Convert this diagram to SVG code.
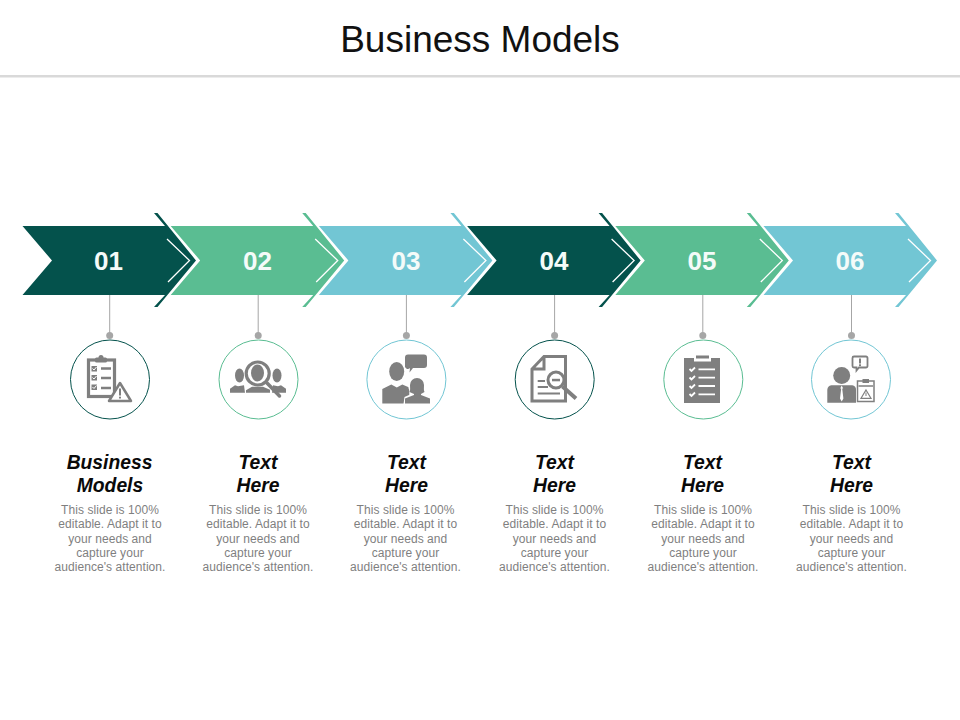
<svg xmlns="http://www.w3.org/2000/svg" width="960" height="720" viewBox="0 0 960 720">
<style>
text{font-family:"Liberation Sans",Arial,sans-serif;text-anchor:middle}
.title{font-size:37px;fill:#111}
.num{font-size:26px;font-weight:bold;fill:#f4fbf9}
.head{font-size:19.3px;font-weight:bold;font-style:italic;fill:#0a0a0a}
.body{font-size:12px;fill:#7f7f7f;letter-spacing:.06px}
.inner{fill:none;stroke:#fff;stroke-width:1.3}
.link{stroke:#a6a6a6;stroke-width:1}
.dot{fill:#a6a6a6}
.ring{fill:#fff;stroke-width:1}
.g{fill:#7f7f7f}
.o{fill:none;stroke:#7f7f7f}
.w{fill:none;stroke:#fff}
</style>
<defs>
<polygon id="arrow" points="22.5,226 165,226 154,213 157.5,213 196,260.5 157.5,307 154,307 165,295 22.5,295 52,260.5"/>
<polyline id="inner" class="inner" points="167,239 189.5,260.5 168,282"/>
<g id="para">
<text class="body" y="0">This slide is 100%</text>
<text class="body" y="14.3">editable. Adapt it to</text>
<text class="body" y="28.500">your needs and</text>
<text class="body" y="42.800">capture your</text>
<text class="body" y="57">audience's attention.</text>
</g>
</defs>
<rect width="960" height="720" fill="#fff"/>
<g id="title">
<text class="title" x="480" y="52">Business Models</text>
<rect x="0" y="75" width="960" height="2.5" fill="#d9d9d9"/>
</g>
<g id="connectors">
<line class="link" x1="109.7" y1="295" x2="109.7" y2="336"/><circle class="dot" cx="109.7" cy="335.5" r="3.5"/>
<line class="link" x1="258.2" y1="295" x2="258.2" y2="336"/><circle class="dot" cx="258.2" cy="335.5" r="3.5"/>
<line class="link" x1="406.4" y1="295" x2="406.4" y2="336"/><circle class="dot" cx="406.4" cy="335.5" r="3.5"/>
<line class="link" x1="554.6" y1="295" x2="554.6" y2="336"/><circle class="dot" cx="554.6" cy="335.5" r="3.5"/>
<line class="link" x1="702.8" y1="295" x2="702.8" y2="336"/><circle class="dot" cx="702.8" cy="335.5" r="3.5"/>
<line class="link" x1="851.5" y1="295" x2="851.5" y2="336"/><circle class="dot" cx="851.5" cy="335.5" r="3.5"/>
</g>
<g id="node-01">
<use href="#arrow" fill="#04524c"/><use href="#inner"/>
<text class="num" x="108.500" y="270">01</text>
<circle class="ring" cx="110" cy="379.500" r="39.5" stroke="#04524c"/>
<g id="icon-01">
<rect class="o" stroke-width="3.200" x="88.500" y="360" width="26" height="36.500"/>
<rect class="g" x="95" y="357.500" width="12" height="5" rx="1.500"/><circle class="g" cx="101" cy="357.500" r="2.500"/>
<rect class="g" x="91.500" y="366" width="5.500" height="5.500"/><rect class="g" x="91.500" y="375" width="5.500" height="5.500"/><rect class="g" x="91.500" y="384.500" width="5.500" height="5.500"/>
<path class="w" stroke-width="1" d="M92.500 368.500l1.500 1.500 2.500-3M92.500 377.500l1.500 1.500 2.500-3M92.500 387l1.500 1.500 2.500-3"/>
<path class="o" stroke-width="2.500" d="M101 368.500h10M101 378h10M101 388h10"/>
<polygon points="120,383 131,401 109,401" fill="#fff" stroke="#7f7f7f" stroke-width="2.500" stroke-linejoin="round"/>
<rect class="g" x="119" y="388.500" width="2" height="7"/><rect class="g" x="119" y="396.700" width="2" height="1.800"/>
</g>
</g>
<g id="node-02">
<g transform="translate(148.2 0)"><use href="#arrow" fill="#5abd92"/><use href="#inner"/></g>
<text class="num" x="257.500" y="270">02</text>
<circle class="ring" cx="258.500" cy="379.500" r="39.5" stroke="#5abd92"/>
<g id="icon-02">
<ellipse class="g" cx="239.500" cy="375.500" rx="4.500" ry="7"/><ellipse class="g" cx="277" cy="375.500" rx="4.500" ry="7"/>
<path class="g" d="M230 392.700v-4l5-3.500 3 1 6-1 1 7.500zM286 392.700v-4l-5-3.500-3 1-5-1-1 7.500z"/>
<path class="g" d="M246 392.700v-2.500l6-3.500h11l7 3v3z"/>
<circle cx="257.700" cy="373.500" r="11.500" fill="#fff" stroke="#7f7f7f" stroke-width="3.200"/>
<ellipse class="g" cx="257.500" cy="373" rx="6.500" ry="8.500"/>
<line class="o" stroke-width="3.500" stroke-linecap="round" x1="267" y1="383" x2="279.5" y2="396"/>
</g>
</g>
<g id="node-03">
<g transform="translate(296.4 0)"><use href="#arrow" fill="#72c6d4"/><use href="#inner"/></g>
<text class="num" x="406" y="270">03</text>
<circle class="ring" cx="406.400" cy="379.500" r="39.5" stroke="#72c6d4"/>
<g id="icon-03">
<ellipse class="g" cx="396.700" cy="371.500" rx="7.500" ry="9.500"/>
<path class="g" d="M382.300 403.500v-14.500l9-4.500 5.500 3 5.500-3 7 3v16z"/>
<path class="g" d="M405 357.500a3 3 0 0 1 3-3h16a3 3 0 0 1 3 3v7.500a3 3 0 0 1-3 3h-11l-3.500 4.500 .500-4.500a3 3 0 0 1-5-3z"/>
<ellipse cx="417" cy="384.500" rx="9" ry="10.500" fill="#fff"/>
<path d="M403.500 404l1-7 8-3.500h10l8 3v7.500z" fill="#fff"/>
<path class="g" d="M409.500 392c1-2 .500-4 .500-7a7 7 0 0 1 14 0c0 3 -.500 5 .500 7l-3.500 2v1l9 3.500v5h-25v-5l9-3.500v-1z"/>
</g>
</g>
<g id="node-04">
<g transform="translate(444.6 0)"><use href="#arrow" fill="#04524c"/><use href="#inner"/></g>
<text class="num" x="554" y="270">04</text>
<circle class="ring" cx="554.700" cy="379.500" r="39.5" stroke="#04524c"/>
<g id="icon-04">
<path class="o" stroke-width="3" d="M544 356.500h21.500v44.500h-33.500v-32zV369h-12"/>
<path class="o" stroke-width="2" d="M537.700 381h7.300M537.700 387h10.300M537.700 393.500h22.300"/>
<circle cx="556" cy="380" r="8" fill="#fff" stroke="#7f7f7f" stroke-width="3"/>
<rect class="g" x="552" y="378.800" width="8" height="2.500"/>
<line class="o" stroke-width="4" x1="562.500" y1="386.500" x2="576" y2="398.500"/>
</g>
</g>
<g id="node-05">
<g transform="translate(592.8 0)"><use href="#arrow" fill="#5abd92"/><use href="#inner"/></g>
<text class="num" x="702" y="270">05</text>
<circle class="ring" cx="703.300" cy="379.500" r="39.5" stroke="#5abd92"/>
<g id="icon-05">
<rect class="g" x="684" y="358" width="36" height="45"/>
<rect x="694" y="355" width="17" height="6.500" fill="#fff"/><rect class="g" x="696" y="355.500" width="13" height="3"/>
<path class="w" stroke-width="1.800" d="M689.500 369l2 2 3.500-3.500M689.500 377.500l2 2 3.500-3.500M689.500 386l2 2 3.500-3.500M689.500 394l2 2 3.500-3.500M698.500 369.300h16.500M698.500 377.600h16.500M698.500 386h16.500M698.500 394.300h16.500"/>
</g>
</g>
<g id="node-06">
<g transform="translate(741 0)"><use href="#arrow" fill="#72c6d4"/><use href="#inner"/></g>
<text class="num" x="850" y="270">06</text>
<circle class="ring" cx="851" cy="379.500" r="39.5" stroke="#72c6d4"/>
<g id="icon-06">
<path class="o" stroke-width="1.800" d="M854 356.500h12a1.500 1.500 0 0 1 1.500 1.500v8a1.500 1.500 0 0 1-1.500 1.500h-7l-2.500 3v-3h-2.500a1.500 1.500 0 0 1-1.500-1.500v-8a1.500 1.500 0 0 1 1.500-1.500z"/>
<rect class="g" x="859" y="358.500" width="2" height="5"/><rect class="g" x="859" y="364.300" width="2" height="1.800"/>
<circle class="g" cx="841.700" cy="375.500" r="8.500"/>
<path class="g" d="M827.300 402.700v-13a5 5 0 0 1 4-4.500h21a4 4 0 0 1 3.700 4.500v13z"/>
<path d="M841.700 385.500l1.500 3-1 0 1.200 10-1.700 3-1.700-3 1.200-10-1 0z" fill="#fff"/>
<rect class="o" stroke-width="1.500" x="857.500" y="381" width="16.500" height="20.500"/>
<rect class="g" x="862.500" y="379" width="6.500" height="4"/>
<path class="o" stroke-width="1.500" d="M858.500 386h14.500"/>
<polygon class="o" stroke-width="1.200" points="866,390 871,398.300 861,398.300"/>
<rect class="g" x="865.500" y="392.500" width="1" height="3.500"/>
</g>
</g>
<g id="text-01"><text class="head" x="109.500" y="469">Business</text><text class="head" x="110" y="492">Models</text><use href="#para" x="110" y="514"/></g>
<g id="text-02"><text class="head" x="258" y="469">Text</text><text class="head" x="258" y="492">Here</text><use href="#para" x="258" y="514"/></g>
<g id="text-03"><text class="head" x="406.500" y="469">Text</text><text class="head" x="406.500" y="492">Here</text><use href="#para" x="405.500" y="514"/></g>
<g id="text-04"><text class="head" x="554.500" y="469">Text</text><text class="head" x="554.500" y="492">Here</text><use href="#para" x="554.500" y="514"/></g>
<g id="text-05"><text class="head" x="702.500" y="469">Text</text><text class="head" x="702.500" y="492">Here</text><use href="#para" x="703" y="514"/></g>
<g id="text-06"><text class="head" x="851.500" y="469">Text</text><text class="head" x="851.500" y="492">Here</text><use href="#para" x="851.500" y="514"/></g>
</svg>
